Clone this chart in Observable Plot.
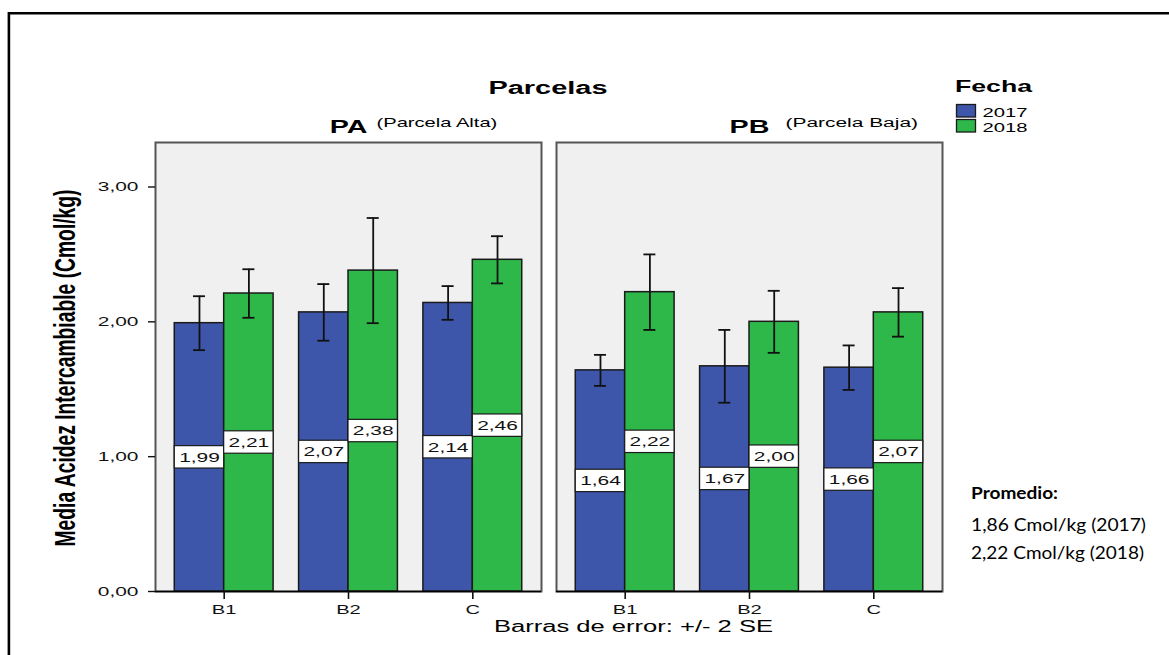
<!DOCTYPE html>
<html>
<head>
<meta charset="utf-8">
<script src="https://cdn.jsdelivr.net/npm/d3@7"></script>
<script src="https://cdn.jsdelivr.net/npm/@observablehq/plot@0.6"></script>
<style>
  html, body { margin: 0; padding: 0; background: #fff; }
  #chart { position: relative; width: 1169px; height: 655px; }
</style>
</head>
<body>
<div id="chart"></div>
<script>
// ---- data ----
const parcelas = ["PA", "PB"];
const parcelaNombres = ["(Parcela Alta)", "(Parcela Baja)"];
const zonas = ["B1", "B2", "C"];
const fechas = ["2017", "2018"];
const media2017 = [1.99, 2.07, 2.14, 1.64, 1.67, 1.66];
const media2018 = [2.21, 2.38, 2.46, 2.22, 2.00, 2.07];
const err2017 = [0.20, 0.21, 0.125, 0.115, 0.27, 0.165];
const err2018 = [0.18, 0.39, 0.175, 0.28, 0.23, 0.18];
const yTicks = [0, 1, 2, 3];
const promedio = ["Promedio:", "1,86 Cmol/kg (2017)", "2,22 Cmol/kg (2018)"];

const table = [];
parcelas.forEach((p, pi) => zonas.forEach((z, zi) => {
  const k = pi * zonas.length + zi;
  table.push({parcela: p, zona: z, fecha: fechas[0], media: media2017[k], err: err2017[k]});
  table.push({parcela: p, zona: z, fecha: fechas[1], media: media2018[k], err: err2018[k]});
}));
const t17 = table.filter(d => d.fecha === fechas[0]);
const t18 = table.filter(d => d.fecha === fechas[1]);

// ---- layout ----
const W = 1169, H = 655;
const mt = 142, mb = 64, ml = 155, mr = 227;
const ymax = 3.33;
const fxPI = 15 / 401;
const xPI = 0.205, xPO = 0.155;
const total = W - ml - mr;
const facetBw = total * (1 - fxPI) / (2 - fxPI);
const xStep = facetBw / (zonas.length - xPI + 2 * xPO);
const bw = xStep * (1 - xPI);
const pxPerUnit = (H - mt - mb) / ymax;
const boxHalf = 11.2 / pxPerUnit;
const cap = 6;
const STRETCH = 1.55;

const blue = "#3d56aa", green = "#2eb84a";
const fmt = v => v.toFixed(2).replace(".", ",");

const plot = Plot.plot({
  width: W, height: H,
  marginTop: mt, marginBottom: mb, marginLeft: ml, marginRight: mr,
  style: {fontFamily: "'Liberation Sans', Arial, sans-serif", background: "transparent", overflow: "visible", color: "#111"},
  fx: {domain: parcelas, paddingInner: fxPI, paddingOuter: 0, round: false, axis: null, label: null},
  x: {domain: zonas, paddingInner: xPI, paddingOuter: xPO, round: false, axis: null, label: null},
  y: {domain: [0, ymax], axis: null},
  color: {domain: fechas, range: [blue, green]},
  marks: [
    Plot.frame({fill: "#f0f0f0", stroke: "#555", strokeWidth: 2}),
    Plot.barY(t17, {fx: "parcela", x: "zona", y: "media", fill: "fecha", stroke: "#1a1a1a", strokeWidth: 1.5, insetRight: bw / 2}),
    Plot.barY(t18, {fx: "parcela", x: "zona", y: "media", fill: "fecha", stroke: "#1a1a1a", strokeWidth: 1.5, insetLeft: bw / 2}),
    // error bars
    Plot.ruleX(t17, {fx: "parcela", x: "zona", y1: d => d.media - d.err, y2: d => d.media + d.err, dx: -bw / 4, stroke: "#111", strokeWidth: 1.8}),
    Plot.ruleX(t18, {fx: "parcela", x: "zona", y1: d => d.media - d.err, y2: d => d.media + d.err, dx: bw / 4, stroke: "#111", strokeWidth: 1.8}),
    Plot.tickY(t17, {fx: "parcela", x: "zona", y: d => d.media + d.err, insetLeft: bw / 4 - cap, insetRight: 3 * bw / 4 - cap, stroke: "#111", strokeWidth: 1.8}),
    Plot.tickY(t17, {fx: "parcela", x: "zona", y: d => d.media - d.err, insetLeft: bw / 4 - cap, insetRight: 3 * bw / 4 - cap, stroke: "#111", strokeWidth: 1.8}),
    Plot.tickY(t18, {fx: "parcela", x: "zona", y: d => d.media + d.err, insetLeft: 3 * bw / 4 - cap, insetRight: bw / 4 - cap, stroke: "#111", strokeWidth: 1.8}),
    Plot.tickY(t18, {fx: "parcela", x: "zona", y: d => d.media - d.err, insetLeft: 3 * bw / 4 - cap, insetRight: bw / 4 - cap, stroke: "#111", strokeWidth: 1.8}),
    // value label boxes
    Plot.barY(t17, {fx: "parcela", x: "zona", y1: d => d.media / 2 - boxHalf, y2: d => d.media / 2 + boxHalf, fill: "white", stroke: "#1a1a1a", strokeWidth: 1.2, insetRight: bw / 2}),
    Plot.barY(t18, {fx: "parcela", x: "zona", y1: d => d.media / 2 - boxHalf, y2: d => d.media / 2 + boxHalf, fill: "white", stroke: "#1a1a1a", strokeWidth: 1.2, insetLeft: bw / 2}),
    Plot.text(t17, {fx: "parcela", x: "zona", y: d => d.media / 2, text: d => fmt(d.media), dx: -bw / 4, fontSize: 13.5, fill: "#111"}),
    Plot.text(t18, {fx: "parcela", x: "zona", y: d => d.media / 2, text: d => fmt(d.media), dx: bw / 4, fontSize: 13.5, fill: "#111"}),
    Plot.ruleY([0], {stroke: "#000", strokeWidth: 1.6}),
    Plot.axisY({ticks: yTicks, tickFormat: fmt, tickSize: 7, tickPadding: 10, fontSize: 13.5, label: null, anchor: "left", stroke: "#111", strokeWidth: 1.4}),
    Plot.axisX({tickSize: 8, tickPadding: 5, fontSize: 13, label: null, stroke: "#111", strokeWidth: 1.6}),
    // facet labels
    Plot.text([0, 1], {fx: i => parcelas[i], text: i => parcelas[i], frameAnchor: "top", dy: -10, lineAnchor: "bottom", fontWeight: "bold", fontSize: 18.5, fill: "#000"}),
    Plot.text([0], {fx: i => parcelas[i], text: i => parcelaNombres[i], frameAnchor: "top", dx: 28, dy: -16, lineAnchor: "bottom", textAnchor: "start", fontSize: 13, fill: "#000"}),
    Plot.text([1], {fx: i => parcelas[i], text: i => parcelaNombres[i], frameAnchor: "top", dx: 36, dy: -16, lineAnchor: "bottom", textAnchor: "start", fontSize: 13.5, fill: "#000"})
  ]
});

// horizontal stretch of the SPSS-style text
plot.querySelectorAll("text").forEach(t => {
  t.setAttribute("transform", (t.getAttribute("transform") || "") + ` scale(${STRETCH},1)`);
});

const svg = d3.select(plot);
const color = plot.scale("color");

function addText(txt, x, y, o) {
  const t = svg.append("text")
    .attr("x", x).attr("y", y)
    .attr("text-anchor", o.anchor || "start")
    .attr("font-family", o.family || "'Liberation Sans', Arial, sans-serif")
    .attr("font-size", o.size)
    .attr("font-weight", o.weight || "normal")
    .attr("fill", "#000")
    .text(txt);
  if (o.len) t.attr("textLength", o.len).attr("lengthAdjust", "spacingAndGlyphs");
  if (o.transform) t.attr("transform", o.transform);
  return t;
}

// outer border (top + left)
svg.append("path").attr("d", "M8.9,655V13.2H1169").attr("fill", "none").attr("stroke", "#000").attr("stroke-width", 2.6);

addText("Parcelas", 548, 94, {anchor: "middle", size: 18, weight: "bold", len: 119});
addText("Media Acidez Intercambiable (Cmol/kg)", 0, 0, {anchor: "middle", size: 19, weight: "bold", len: 357,
  transform: "translate(74.5,368) rotate(-90) scale(1,1.55)"});
addText("Barras de error: +/- 2 SE", 494, 632, {size: 16, len: 279});

// legend
addText("Fecha", 955, 91.5, {size: 17, weight: "bold", len: 77});
fechas.forEach((f, i) => {
  svg.append("rect").attr("x", 956.5).attr("y", 104.5 + i * 15).attr("width", 19).attr("height", 12.5)
    .attr("fill", color.apply(f)).attr("stroke", "#1a1a1a").attr("stroke-width", 1.3);
  addText(f, 982.5, 117 + i * 15.3, {size: 13.5, len: 45});
});

// averages note
addText(promedio[0], 971, 499, {size: 17, weight: "bold", family: "Lato, 'Open Sans', sans-serif", len: 87});
addText(promedio[1], 971, 531, {size: 16.5, family: "Lato, 'Open Sans', sans-serif", len: 175});
addText(promedio[2], 971, 559, {size: 16.5, family: "Lato, 'Open Sans', sans-serif", len: 173});

document.getElementById("chart").appendChild(plot);
</script>
</body>
</html>
